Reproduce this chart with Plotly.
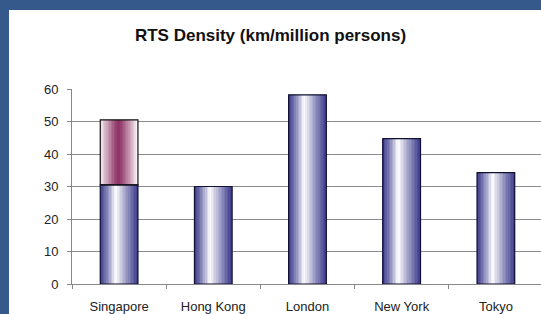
import plotly.graph_objects as go

# ---- data ----
cities = ["Singapore", "Hong Kong", "London", "New York", "Tokyo"]
base_density = [30.5, 30.0, 58.2, 44.7, 34.3]
extra_density = [20.0, None, None, None, None]
title_text = "RTS Density (km/million persons)"
y_ticks = [0, 10, 20, 30, 40, 50, 60]

# ---- style ----
BAR_W = 0.40
N = 24
BG = "#34598a"

def lerp(c1, c2, t):
    return tuple(int(round(a + (b - a) * t)) for a, b in zip(c1, c2))

def blue_color(p):
    dark = (64, 62, 142)
    white = (255, 255, 255)
    c0 = 0.42
    if p < c0:
        t = (p / c0) ** 1.3
    else:
        t = ((1 - p) / (1 - c0)) ** 1.1
    return "rgb(%d,%d,%d)" % lerp(dark, white, t)

def magenta_color(p):
    dark = (140, 50, 100)
    white = (250, 240, 245)
    d = abs(p - 0.5) / 0.5
    t = min(1, d ** 1.2 * 1.05)
    return "rgb(%d,%d,%d)" % lerp(dark, white, t)

fig = go.Figure()
sw = BAR_W / N
for i in range(N):
    p = (i + 0.5) / N
    fig.add_trace(go.Bar(
        x=cities, y=base_density, width=sw, offset=-BAR_W / 2 + i * sw,
        marker=dict(color=blue_color(p), line=dict(width=0)),
        showlegend=False, hoverinfo="skip"))
    fig.add_trace(go.Bar(
        x=cities, y=extra_density, base=base_density, width=sw,
        offset=-BAR_W / 2 + i * sw,
        marker=dict(color=magenta_color(p), line=dict(width=0)),
        showlegend=False, hoverinfo="skip"))

# outlines
fig.add_trace(go.Bar(x=cities, y=base_density, width=BAR_W, offset=-BAR_W / 2,
                     marker=dict(color="rgba(0,0,0,0)", line=dict(color="#111133", width=1.2)),
                     showlegend=False, hoverinfo="skip"))
fig.add_trace(go.Bar(x=cities, y=extra_density, base=base_density, width=BAR_W,
                     offset=-BAR_W / 2,
                     marker=dict(color="rgba(0,0,0,0)", line=dict(color="#111111", width=1.2)),
                     showlegend=False, hoverinfo="skip"))

fig.update_layout(
    width=541, height=314,
    barmode="overlay",
    paper_bgcolor="white",
    plot_bgcolor="rgba(0,0,0,0)",
    margin=dict(l=72, r=0, t=89, b=30),
    font=dict(family="Liberation Sans, Arial", size=13, color="#222222"),
    title=dict(text="<b>" + title_text + "</b>", x=0.5, xanchor="center",
               y=1 - 35 / 314, yanchor="middle", font=dict(size=17, color="#111111")),
    shapes=[
        # blue left band
        dict(type="rect", xref="paper", yref="paper", x0=-0.2, x1=-63 / 469,
             y0=-0.5, y1=1.6, fillcolor=BG, line=dict(width=0), layer="below"),
        # blue top band
        dict(type="rect", xref="paper", yref="paper", x0=-0.2, x1=1.2,
             y0=1 + 79 / 195, y1=1.6, fillcolor=BG, line=dict(width=0), layer="below"),
    ],
    xaxis=dict(range=[-0.5, 4.479], showgrid=False, showline=True, linecolor="#888888",
               ticks="outside", ticklen=4, tickcolor="#888888", tickson="boundaries",
               ticklabelstandoff=10,
               tickfont=dict(size=13, color="#222222"), fixedrange=True),
    yaxis=dict(range=[0, 60], tickvals=y_ticks, showgrid=True, gridcolor="#8c8c8c",
               gridwidth=1, showline=True, linecolor="#888888", ticks="outside", ticklen=4,
               tickcolor="#888888", zeroline=False, tickfont=dict(size=13, color="#222222"),
               ticklabelstandoff=6, fixedrange=True),
)

fig.write_html("out.html", config={"displayModeBar": False},
               post_script="document.documentElement.style.overflow='hidden';"
                           "document.body.style.margin='0';document.body.style.overflow='hidden';")
